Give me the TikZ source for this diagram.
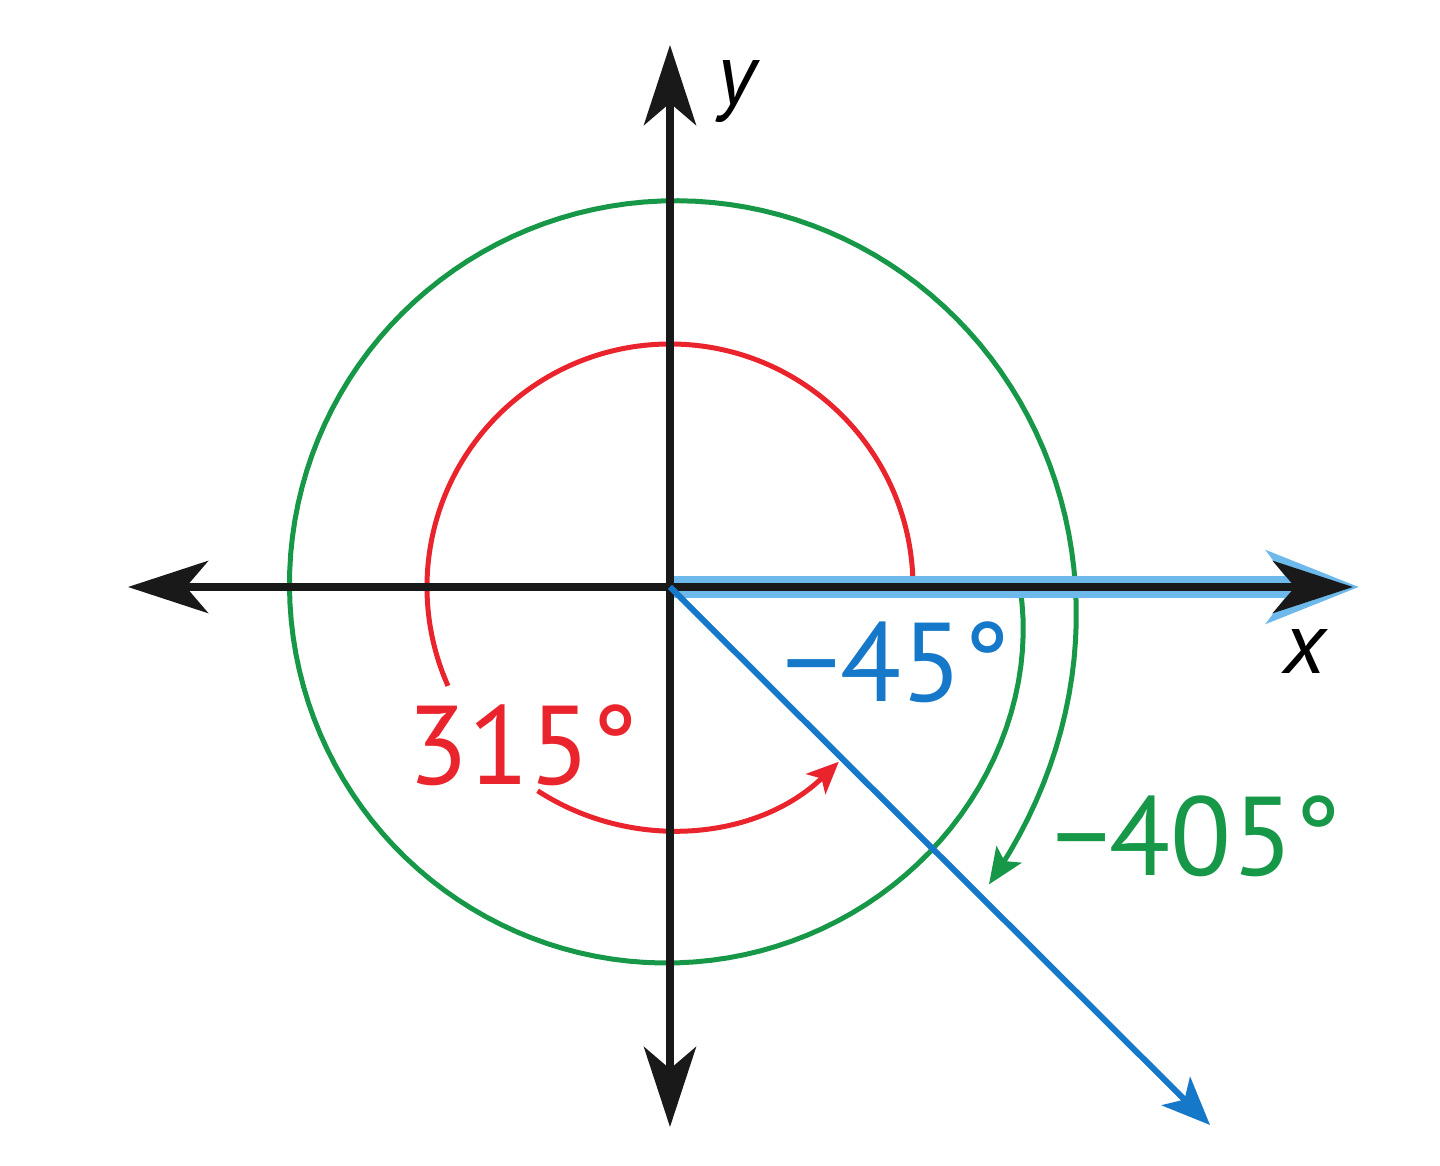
\documentclass[tikz,border=0pt]{standalone}
\usepackage{fontspec}
\setmainfont{PT Sans}
\usetikzlibrary{arrows.meta}
\definecolor{angred}{RGB}{234,36,44}
\definecolor{angblue}{RGB}{22,120,200}
\definecolor{bandblue}{RGB}{110,185,235}
\definecolor{anggreen}{RGB}{22,152,72}
\tikzset{bigtip/.tip={Stealth[length=40pt,width=26pt,inset=11pt]}}
\begin{document}
\begin{tikzpicture}[x=.5pt,y=.5pt,
  axis/.style={line width=4pt,black!90},
  angle lbl/.style={font=\fontsize{56}{60}\selectfont},
  axis lbl/.style={font=\fontsize{44}{48}\selectfont\itshape}]
\useasboundingbox (-670,-579) rectangle (770,587);
\coordinate (O) at (0,0);
\coordinate (xl) at (-542,0);
\coordinate (xr) at (683,0);
\coordinate (yb) at (0,-540);
\coordinate (yt) at (0,542);
\coordinate (ray) at (540,-538);
% green turn: one full turn and 45 more
\draw[anggreen,line width=2.5pt,-{Stealth[length=18pt,width=15pt,inset=4pt]}]
  plot[domain=0:403,samples=160,variable=\t]
  ({-\t}:{350+23*(1-exp(-\t/25))+0.04*\t+47*exp((\t-403)/45)});
% red turn
\draw[angred,line width=2.5pt] (0:243) arc[start angle=0,end angle=204,radius=243];
\draw[angred,line width=2.5pt,-{Stealth[length=16pt,width=14pt,inset=4pt]}]
  (237:243) arc[start angle=237,end angle=314,radius=243];
% axes
\draw[bandblue,line width=11pt,-{Stealth[length=46pt,width=36pt,inset=13pt]}] (O) -- ([xshift=3pt]xr);
\draw[axis,bigtip-bigtip] (xl) -- (xr);
\draw[axis,bigtip-bigtip] (yb) -- (yt);
\draw[angblue,line width=3pt,-{Stealth[length=24pt,width=20pt,inset=6pt]}] (O) -- (ray);
% labels
\node[angle lbl,text=angred] (l315) at (-147,-158) {315°};
\node[angle lbl,text=angblue] (l45) at (227,-75) {−45°};
\node[angle lbl,text=anggreen] (l405) at (527,-249) {−405°};
\node[axis lbl] (lx) at (635,-65) {x};
\node[axis lbl] (ly) at (67,495) {y};
\end{tikzpicture}
\end{document}
